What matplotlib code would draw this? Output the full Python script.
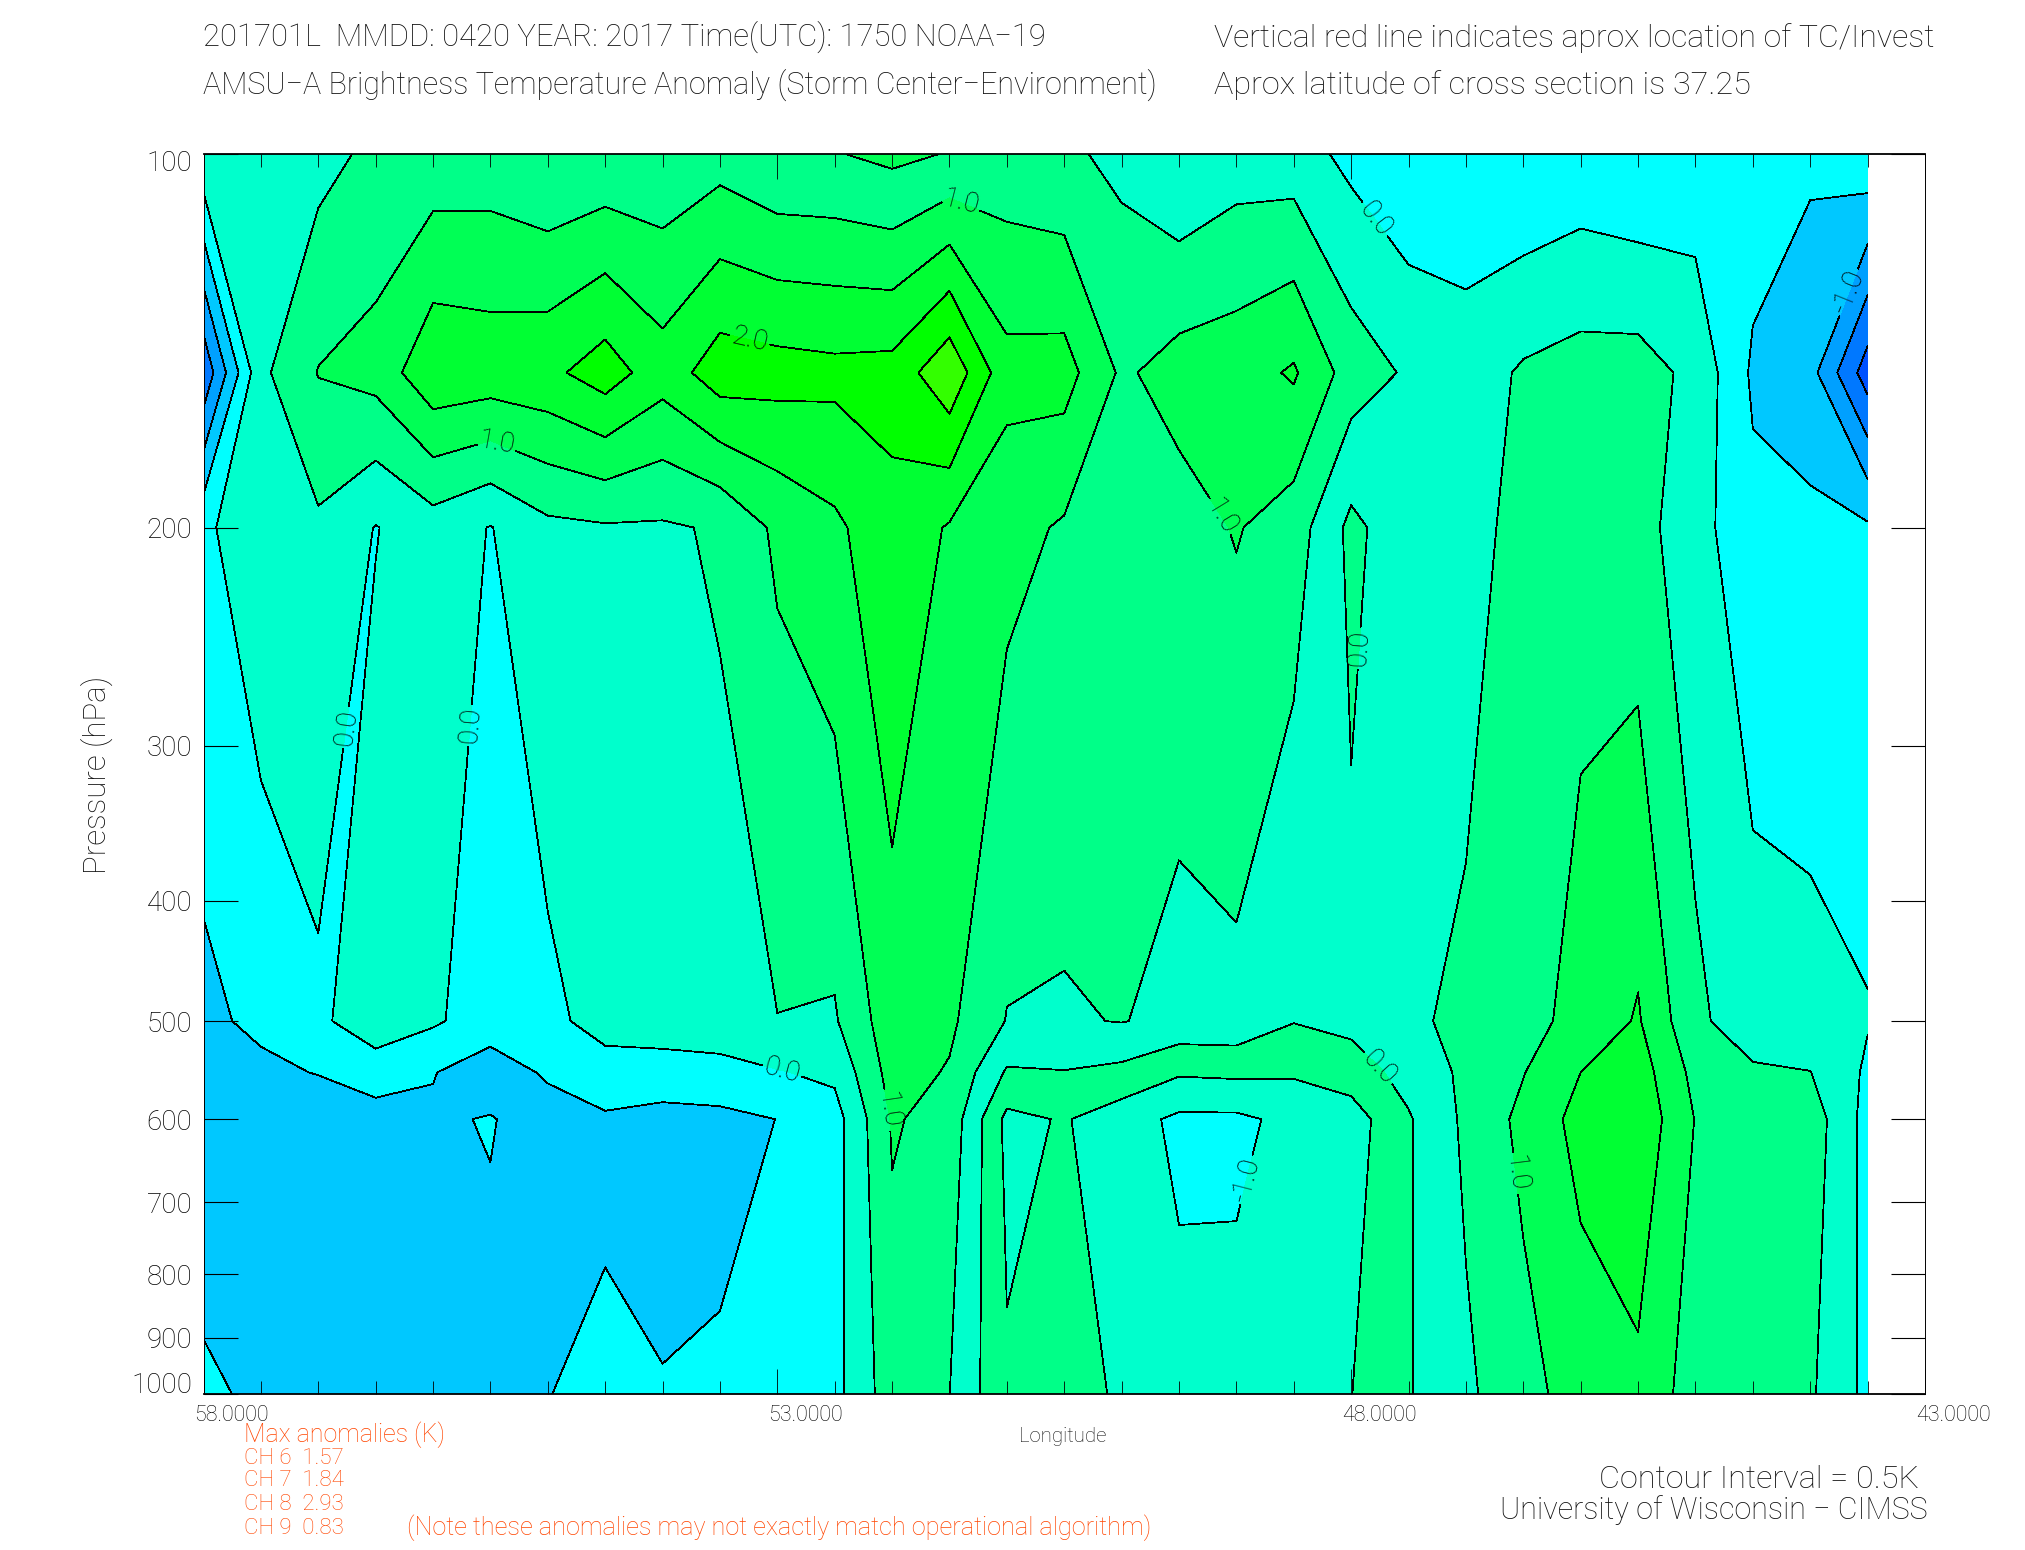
#!/usr/bin/python
"""Plot AMSU-A brightness temperature anomaly cross section."""

import numpy as np
import matplotlib
matplotlib.use('Agg')
import matplotlib.pyplot as plt
import matplotlib.tri as mtri
from matplotlib.transforms import ScaledTranslation

# longitudes and pressure levels of the cross section
LON = [58.0 - 0.5*i for i in range(30)]
PRES = [100, 150, 200, 500, 550, 600, 1000]

# temperature anomaly (K) on each pressure level, west to east
T100 = [.40, .20, .33, .62, .69, .72, .52, .605, .63, .79,
        .55, .53, .38, .53, .70, .59, .38, .03, .265, .23,
        -.135, -.44, -.39, -.49, -.36, -.48, -.33, -.21, -.415, -.12]
T150 = [-1.9, .39, 1.02, 1.18, 1.88, 1.8, 1.88, 2.25, 1.72, 2.27,
        2.2, 2.14, 2.18, 2.88, 1.67, 1.7, .92, 1.21, 1.29, 1.56,
        .77, .43, .24, .565, .7, .71, .37, -.58, -.82, -2.26]
T200 = [-.12, .42, .415, -.02, .27, -.02, .385, .45, .44, .55,
        1.1, 1.4, 1.85, 1.45, 1.17, .94, .75, .79, 1.034, .76,
        -.13, .33, .33, .65, .86, .69, .19, -.36, -.38, -.43]
T500 = [-.60, -.40, -.09, .28, .07, -.25, -.11, .167, .26, .355,
        .49, .45, 1.31, 1.09, .48, .45, .52, .36, .367, .02,
        .14, .44, .58, .85, 1.14, 1.55, .6, .227, .16, .03]
T550 = [-.66, -.6, -.48, -.24, -.48, -.75, -.435, -.18, -.22, -.2,
        -.03, .107, 1.2, .96, -.06, -.02, -.13, -.44, -.4, -.44,
        -.25, .18, .6, .98, 1.5, 1.75, .85, .57, .51, -.08]
T600 = [-.7, -.75, -.8, -.72, -.56, -.473, -.71, -.57, -.66, -.615,
        -.495, -.21, 1.05, .82, -.63, -.46, -.78, -1.1, -1.1, -.87,
        -.74, -.05, .6, 1.13, 1.67, 1.875, .98, .85, .78, -.18]
T1000 = [-.45, -.55, -.7, -.75, -.7, -.646, -.505, -.44, -.48, -.45,
         -.2, -.15, .78, .505, -.44, -.44, -.52, -.84, -.83, -.75,
         -.51, -.034, .41, .83, 1.22, 1.39, .75, .7, .57, -.125]

# contour levels and band colours
LEVELS = [-2.5, -2, -1.5, -1, -.5, 0, .5, 1, 1.5, 2, 2.5, 3]
COLORS = ['#0050ff', '#0078ff', '#00a0ff', '#00c8ff', '#00ffff', '#00ffcc',
          '#00ff88', '#00ff55', '#00ff33', '#00ff00', '#33ff00']

# closed lows are filled one band too high in the original plot
LOW_LEVELS = [-1.5, -1, -.5, 0]
LOW_COLORS = ['#00ffff', '#00ffcc', '#00ff88']
CAP_LEVELS = [0, .5]
CAP_COLORS = ['#00ff55']

# contour labels (lon, log10 pressure)
LABEL_POS = [(51.4, 2.038), (53.24, 2.149), (55.45, 2.234), (47.8, 2.053),
             (43.7, 2.11), (49.1, 2.29), (55.75, 2.46),
             (47.98, 2.398), (52.95, 2.736), (51.97, 2.77), (47.75, 2.736),
             (48.92, 2.827), (46.5, 2.821)]
SADDLE_LABEL_POS = [(56.8, 2.462)]

PRES_TICKS = [100, 200, 300, 400, 500, 600, 700, 800, 900, 1000]
LON_TICKS = [58, 53, 48, 43]
LON_LABELS = ['58.0000', '53.0000', '48.0000', '43.0000']

ORANGE = '#ff4500'
FONT = 'Roboto'


def triangles(values, cols, rows):
    """Split grid cells along the diagonal with the smallest difference."""
    nx = values.shape[1]
    flat = values.ravel()
    tris = []
    for j in rows:
        for i in cols:
            a, b, c, d = j*nx+i, j*nx+i+1, (j+1)*nx+i, (j+1)*nx+i+1
            if abs(flat[a]-flat[d]) <= abs(flat[b]-flat[c]):
                tris += [(a, b, d), (a, d, c)]
            else:
                tris += [(a, b, c), (b, d, c)]
    return tris


def main():
    """Main program called during execution."""
    plt.rcParams['font.family'] = [FONT, 'DejaVu Sans']
    plt.rcParams['font.weight'] = 'light'
    plt.rcParams['text.color'] = '#111111'

    # initialize figure
    fig = plt.figure(figsize=(20.25, 15.5), dpi=100)
    ax = fig.add_axes([203.5/2025, 1-1394.3/1550, 1721.5/2025, 1240/1550])

    # prepare grid
    lon = np.array(LON)
    lev = np.log10(PRES)
    values = np.array([T100, T150, T200, T500, T550, T600, T1000])
    xx, yy = np.meshgrid(lon, lev)
    nrows, ncols = values.shape
    x, y, z = xx.ravel(), yy.ravel(), values.ravel()
    fill = {'levels': LEVELS, 'colors': COLORS, 'antialiased': False}
    line = {'levels': LEVELS, 'colors': 'k', 'linewidths': .55,
            'linestyles': 'solid', 'antialiased': False}
    label = {'fmt': '%.1f', 'fontsize': 20, 'colors': 'k', 'inline': True,
             'inline_spacing': 3}

    # plot bands under everything so that no seam shows
    tri = mtri.Triangulation(
        x, y, triangles(values, range(ncols-1), range(nrows-1)))
    ax.tricontourf(tri, z, **fill)

    # one saddle cell joins its low corners, unlike the quad algorithm
    saddle = mtri.Triangulation(x, y, triangles(values, [2], [2]))
    pieces = [(slice(0, 3), slice(None)),
              (slice(2, 4), slice(0, 3)),
              (slice(2, 4), slice(3, None))]
    main_cols, main_rows = slice(3, None), slice(None)

    # plot quad pieces
    for cols, rows in pieces + [(main_cols, main_rows)]:
        ax.contourf(lon[cols], lev[rows], values[rows, cols], **fill)
    ax.tricontourf(saddle, z, **fill)

    # plot closed lows
    ax.contourf(lon[13:23], lev[1:], values[1:, 13:23], levels=LOW_LEVELS,
                colors=LOW_COLORS, antialiased=False)
    ax.contourf(lon[11:14], lev[:2], values[:2, 11:14], levels=CAP_LEVELS,
                colors=CAP_COLORS, antialiased=False)

    # plot contours and labels
    for cols, rows in pieces:
        ax.contour(lon[cols], lev[rows], values[rows, cols], **line)
    lines = ax.contour(lon[main_cols], lev[main_rows],
                       values[main_rows, main_cols], **line)
    ax.clabel(lines, LEVELS, manual=LABEL_POS, **label)
    lines = ax.tricontour(saddle, z, **line)
    ax.clabel(lines, LEVELS, manual=SADDLE_LABEL_POS, **label)

    # set axes properties
    ax.set_facecolor('w')
    ax.set_xlim(58, 43)
    ax.set_ylim(3, 2)
    ax.set_xticks(LON_TICKS)
    ax.set_xticks(np.arange(58, 42.9, -.5), minor=True)
    ax.set_yticks(np.log10(PRES_TICKS))
    ax.set_xticklabels(LON_LABELS, fontsize=15.5, ha='left')
    ax.set_yticklabels(PRES_TICKS, fontsize=20)
    ax.tick_params(axis='x', which='major', direction='in', top=True,
                   length=18, width=.6, pad=8)
    ax.tick_params(axis='x', which='minor', direction='in', top=True,
                   length=9.4, width=.6)
    ax.tick_params(axis='y', which='major', direction='in', right=True,
                   length=24.5, width=.8, pad=8)
    ax.yaxis.get_ticklabels()[0].set_va('top')
    ax.yaxis.get_ticklabels()[-1].set_va('bottom')
    shift = ScaledTranslation(-9/100, 0, fig.dpi_scale_trans)
    for tick_label in ax.xaxis.get_ticklabels():
        tick_label.set_transform(tick_label.get_transform()+shift)
    top = ax.yaxis.get_ticklabels()[0]
    top.set_transform(top.get_transform()+ScaledTranslation(
        0, 4/100, fig.dpi_scale_trans))
    bottom = ax.yaxis.get_ticklabels()[-1]
    bottom.set_transform(bottom.get_transform()+ScaledTranslation(
        0, -5/100, fig.dpi_scale_trans))
    for side in ax.spines.values():
        side.set_linewidth(.7)
    ax.spines['top'].set_linewidth(1.3)
    ax.spines['bottom'].set_linewidth(1.3)

    def put(xpos, ypos, text, size, **kw):
        fig.text(xpos/2025, 1-ypos/1550, text, fontsize=size, va='center', **kw)

    # add titles
    put(203, 37, '201701L  MMDD: 0420 YEAR: 2017 Time(UTC): 1750 NOAA\u221219', 22.3)
    put(203, 85, 'AMSU\u2212A Brightness Temperature Anomaly '
        '(Storm Center\u2212Environment)', 22)
    put(1214, 38, 'Vertical red line indicates aprox location of TC/Invest', 23)
    put(1214, 85, 'Aprox latitude of cross section is 37.25', 23.3)

    # add axis labels
    put(97, 775, 'Pressure (hPa)', 22.5, rotation=90, ha='center')
    put(1063, 1436, 'Longitude', 14.7, ha='center')

    # add anomalies and credits
    orange = {'color': ORANGE}
    put(244, 1435, 'Max anomalies (K)', 18, **orange)
    put(244, 1458, 'CH 6  1.57', 16, **orange)
    put(244, 1481, 'CH 7  1.84', 16, **orange)
    put(244, 1505, 'CH 8  2.93', 16, **orange)
    put(244, 1528, 'CH 9  0.83', 16, **orange)
    put(407, 1528, '(Note these anomalies may not exactly match '
        'operational algorithm)', 18.2, **orange)
    put(1919, 1479, 'Contour Interval = 0.5K', 23.3, ha='right')
    put(1928, 1510, 'University of Wisconsin \u2212 CIMSS', 22, ha='right')

    # save figure
    fig.savefig('out.png', dpi=100)


if __name__ == '__main__':
    main()
